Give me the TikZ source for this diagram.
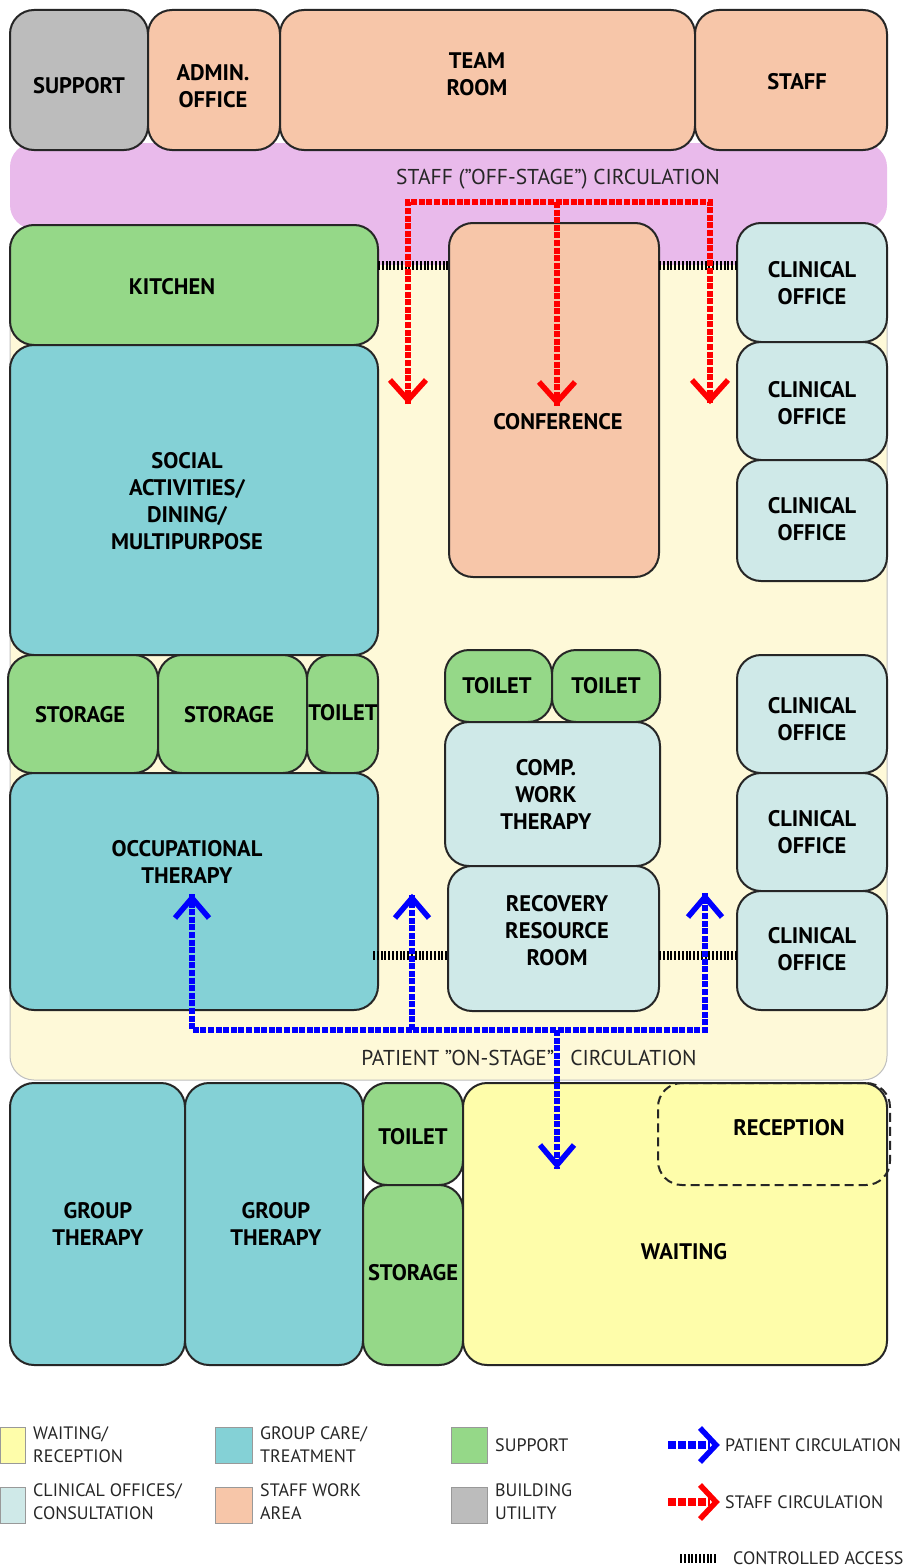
\documentclass[tikz,border=0pt]{standalone}
\usepackage{fontspec}
\setmainfont{PT Sans}
\definecolor{peach}{HTML}{F7C6A9}
\definecolor{util}{HTML}{BCBCBC}
\definecolor{lilac}{HTML}{E9BAEB}
\definecolor{supp}{HTML}{95D888}
\definecolor{teal}{HTML}{84D1D6}
\definecolor{clin}{HTML}{CFE9E8}
\definecolor{cream}{HTML}{FEF9D8}
\definecolor{wait}{HTML}{FEFDAA}
\definecolor{linec}{HTML}{262626}
\definecolor{pblue}{HTML}{0000FF}
\definecolor{sred}{HTML}{FF0000}
\newcommand\room[9]{%
  \pgfmathsetmacro\rw{#4-#2}\pgfmathsetmacro\rh{#5-#3}%
  \node[room, fill=#6, minimum width=\rw pt, minimum height=\rh pt] (#1) at ({(#2+#4)/2},{(#3+#5)/2}) {};
  \node[lbl] (#1-t) at (#7,#8) {#9};}
\begin{document}
\begin{tikzpicture}[x=1pt,y=-1pt,
  room/.style={draw=linec, line width=2pt, rounded corners=24pt, inner sep=0pt, outer sep=0pt},
  lbl/.style={font=\fontsize{22.5}{27}\selectfont\bfseries, align=center, text=black, inner sep=0pt},
  circ/.style={font=\fontsize{21.5}{24}\selectfont, text=black!85, inner sep=0pt},
  leg/.style={font=\fontsize{18}{23}\selectfont, text=black!85, align=left, anchor=west, inner sep=0pt},
  swatch/.style={draw=black!40, line width=1pt, inner sep=0pt, outer sep=0pt},
  hatch/.style={line width=9pt, dash pattern=on 2pt off 1.8pt, draw=black},
  staffpath/.style={draw=sred, line width=6pt, dash pattern=on 6pt off 1.6pt},
  patpath/.style={draw=pblue, line width=6pt, dash pattern=on 6pt off 1.6pt},
  chevs/.style={draw=sred, line width=5.5pt, miter limit=10},
  chevp/.style={draw=pblue, line width=5.5pt, miter limit=10}]
\useasboundingbox (0,0) rectangle (903,1568);
\fill[white] (0,0) rectangle (903,1568);
% circulation areas
\node[draw=black!25, line width=1pt, fill=cream, rounded corners=24pt, minimum width=877pt, minimum height=852pt, inner sep=0pt] (patarea) at (448.5,654) {};
\node[fill=lilac, rounded corners=24pt, minimum width=877pt, minimum height=86pt, inner sep=0pt] (staffarea) at (448.5,186) {};
\node[fill=lilac, minimum width=375pt, minimum height=65pt, inner sep=0pt] (staffneck) at (557.5,232.5) {};
% top row
\room{support}{10}{10}{148}{150}{util}{79}{86}{SUPPORT}
\room{admin}{148}{10}{280}{150}{peach}{213}{86}{ADMIN.\\OFFICE}
\room{team}{280}{10}{695}{150}{peach}{477}{74}{TEAM\\ROOM}
\room{staff}{695}{10}{887}{150}{peach}{797}{82}{STAFF}
% left column
\room{kitchen}{10}{225}{378}{345}{supp}{172}{287}{KITCHEN}
\room{social}{10}{345}{378}{655}{teal}{187}{501}{SOCIAL\\ACTIVITIES/\\DINING/\\MULTIPURPOSE}
\room{stor1}{8}{655}{158}{773}{supp}{80}{715}{STORAGE}
\room{stor2}{158}{655}{307}{773}{supp}{229}{715}{STORAGE}
\room{toil1}{307}{655}{378}{773}{supp}{343}{713}{TOILET}
\room{occ}{10}{773}{378}{1010}{teal}{187}{862}{OCCUPATIONAL\\THERAPY}
% centre
\room{conf}{449}{223}{659}{577}{peach}{558}{422}{CONFERENCE}
\room{toil2}{445}{650}{552}{722}{supp}{497}{686}{TOILET}
\room{toil3}{552}{650}{660}{722}{supp}{606}{686}{TOILET}
\room{comp}{445}{722}{660}{866}{clin}{546}{794}{COMP.\\WORK\\THERAPY}
\room{recov}{448}{866}{659}{1011}{clin}{557}{931}{RECOVERY\\RESOURCE\\ROOM}
% right column
\room{co1}{737}{223}{887}{342}{clin}{812}{283}{CLINICAL\\OFFICE}
\room{co2}{737}{342}{887}{460}{clin}{812}{403}{CLINICAL\\OFFICE}
\room{co3}{737}{460}{887}{581}{clin}{812}{519}{CLINICAL\\OFFICE}
\room{co4}{737}{655}{887}{773}{clin}{812}{719}{CLINICAL\\OFFICE}
\room{co5}{737}{773}{887}{891}{clin}{812}{832}{CLINICAL\\OFFICE}
\room{co6}{737}{891}{887}{1010}{clin}{812}{949}{CLINICAL\\OFFICE}
% bottom row
\room{gt1}{10}{1083}{185}{1365}{teal}{98}{1224}{GROUP\\THERAPY}
\room{gt2}{185}{1083}{363}{1365}{teal}{276}{1224}{GROUP\\THERAPY}
\room{toil4}{363}{1083}{463}{1185}{supp}{413}{1137}{TOILET}
\room{stor3}{363}{1185}{463}{1365}{supp}{413}{1273}{STORAGE}
\room{waiting}{463}{1083}{887}{1365}{wait}{684}{1252}{WAITING}
\node[draw=linec, line width=2pt, dash pattern=on 9pt off 5pt, rounded corners=24pt, minimum width=232pt, minimum height=102pt, inner sep=0pt] (recep) at (774,1134) {};
\node[lbl] (recep-t) at (789,1128) {RECEPTION};
% controlled access
\coordinate (ha1) at (378,265); \coordinate (hb1) at (449,265);
\coordinate (ha2) at (659,265); \coordinate (hb2) at (737,265);
\coordinate (ha3) at (373,955); \coordinate (hb3) at (448,955);
\coordinate (ha4) at (659,955); \coordinate (hb4) at (737,955);
\draw[hatch] (ha1) -- (hb1); \draw[hatch] (ha2) -- (hb2);
\draw[hatch] (ha3) -- (hb3); \draw[hatch] (ha4) -- (hb4);
% circulation labels
\node[circ] (stafflbl) at (558,179) {STAFF (”OFF-STAGE”) CIRCULATION};
\node[circ] (patlbl) at (529,1058) {PATIENT ”ON-STAGE”\hspace{16pt}CIRCULATION};
% staff circulation (red)
\coordinate (sL) at (408,202); \coordinate (sC) at (557,202); \coordinate (sR) at (710,202);
\coordinate (tL) at (408,400); \coordinate (tC) at (557,402); \coordinate (tR) at (710,400);
\draw[staffpath] ([yshift=-4pt]tL) -- (sL) -- (sR) -- ([yshift=-4pt]tR);
\draw[staffpath] (sC) -- ([yshift=-4pt]tC);
\foreach \t in {tL,tC,tR} \draw[chevs] (\t) ++(-18,-20) -- (\t) -- ++(18,-20);
% patient circulation (blue)
\coordinate (pL) at (192,1030); \coordinate (pM) at (412,1030); \coordinate (pC) at (557,1030); \coordinate (pR) at (705,1030);
\coordinate (uL) at (192,898); \coordinate (uM) at (412,898); \coordinate (uR) at (705,897); \coordinate (dC) at (557,1165);
\draw[patpath] ([yshift=4pt]uL) -- (pL) -- (pR) -- ([yshift=4pt]uR);
\draw[patpath] (pM) -- ([yshift=4pt]uM);
\draw[patpath] (pC) -- ([yshift=-4pt]dC);
\foreach \t in {uL,uM,uR} \draw[chevp] (\t) ++(-17,20) -- (\t) -- ++(17,20);
\draw[chevp] (dC) ++(-17,-20) -- (dC) -- ++(17,-20);
% legend
\node[swatch, fill=wait, minimum width=25pt, minimum height=36pt] (lw) at (12.5,1445) {};
\node[swatch, fill=clin, minimum width=25pt, minimum height=36pt] (lc) at (12.5,1505) {};
\node[swatch, fill=teal, minimum width=37pt, minimum height=36pt] (lg) at (234,1445) {};
\node[swatch, fill=peach, minimum width=37pt, minimum height=36pt] (ls) at (234,1505) {};
\node[swatch, fill=supp, minimum width=36pt, minimum height=36pt] (lsu) at (469,1445) {};
\node[swatch, fill=util, minimum width=36pt, minimum height=36pt] (lu) at (469,1505) {};
\node[leg] (lwt) at (33,1445) {WAITING/\\RECEPTION};
\node[leg] (lct) at (33,1502) {CLINICAL OFFICES/\\CONSULTATION};
\node[leg] (lgt) at (260,1445) {GROUP CARE/\\TREATMENT};
\node[leg] (lst) at (260,1502) {STAFF WORK\\AREA};
\node[leg] (lsut) at (495,1445) {SUPPORT};
\node[leg] (lut) at (495,1502) {BUILDING\\UTILITY};
\coordinate (lpa) at (668,1445); \coordinate (lpb) at (716,1445);
\coordinate (lsa) at (668,1502); \coordinate (lsb) at (716,1502);
\draw[draw=pblue, line width=8pt, dash pattern=on 8pt off 2pt] (lpa) -- ([xshift=-6pt]lpb);
\draw[chevp] (lpb) ++(-16,-17) -- (lpb) -- ++(-16,17);
\draw[draw=sred, line width=8pt, dash pattern=on 8pt off 2pt] (lsa) -- ([xshift=-6pt]lsb);
\draw[chevs] (lsb) ++(-16,-17) -- (lsb) -- ++(-16,17);
\node[leg] (lpt) at (725,1445) {PATIENT CIRCULATION};
\node[leg] (lstt) at (725,1502) {STAFF CIRCULATION};
\coordinate (lha) at (680,1558); \coordinate (lhb) at (716,1558);
\draw[hatch] (lha) -- (lhb);
\node[leg] (lht) at (733,1558) {CONTROLLED ACCESS};
\end{tikzpicture}
\end{document}
